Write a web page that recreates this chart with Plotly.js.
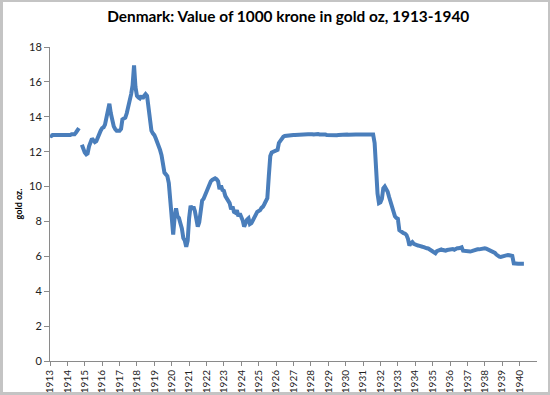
<!DOCTYPE html>
<html>
<head>
<meta charset="utf-8">
<script src="https://cdn.plot.ly/plotly-3.0.1.min.js"></script>
<style>
html,body{margin:0;padding:0;background:#fff;}
#wrap{position:relative;width:550px;height:395px;}
#chart{position:absolute;left:0;top:0;width:550px;height:395px;}
#frame{position:absolute;left:0;top:0;width:550px;height:395px;box-sizing:border-box;border:2px solid #c4c4c4;border-left-width:3px;border-bottom-width:3px;pointer-events:none;}
</style>
</head>
<body>
<div id="wrap"><div id="chart"></div><div id="frame"></div></div>
<script>
// Monthly values, Jan 1913 onward (null = no quotation)
const v1913 = [12.95,12.9,12.95,12.95,12.9,12.9,12.9,12.9,12.9,12.95,12.95,12.95];
const v1914 = [12.95,12.95,12.95,13.0,13.0,13.0,13.1,13.2,13.35,null,12.4,12.1];
const v1915 = [11.95,11.85,11.9,12.3,12.55,12.75,12.65,12.55,12.6,12.85,13.05,13.2];
const v1916 = [13.35,13.4,13.55,13.9,14.4,14.75,14.2,13.7,13.45,13.3,13.2,13.2];
const v1917 = [13.2,13.3,13.85,13.9,13.95,14.2,14.5,14.8,15.3,15.8,16.95,15.7];
const v1918 = [15.2,15.1,15.05,15.2,15.05,15.2,15.3,15.2,14.6,13.8,13.2,13.05];
const v1919 = [12.95,12.75,12.55,12.4,12.1,11.8,11.4,10.8,10.7,10.6,10.2,9.4];
const v1920 = [8.5,7.25,8.2,8.75,8.3,8.2,7.9,7.6,7.05,6.9,6.55,6.9];
const v1921 = [8.2,8.9,8.7,8.85,8.6,8.2,7.7,7.95,8.8,9.2,9.3,9.5];
const v1922 = [9.7,10.0,10.2,10.3,10.38,10.45,10.47,10.42,10.3,9.85,10.05,9.8];
const v1923 = [9.75,9.45,9.35,9.25,9.05,8.7,8.85,8.55,8.5,8.65,8.3,8.45];
const v1924 = [8.3,8.05,7.7,7.95,8.1,8.18,7.85,7.9,8.1,8.3,8.47,8.55];
const v1925 = [8.6,8.65,8.78,8.85,9.0,9.13,9.33,10.6,11.75,11.95,12.0,12.05];
const v1926 = [12.08,12.1,12.5,12.65,12.78,12.85,12.9,12.9,12.92,12.93,12.94,12.95];
const v1927 = [12.95,12.96,12.97,12.96,12.97,12.98,12.98,12.99,13.0,12.99,13.0,13.0];
const v1928 = [13.02,13.0,12.98,13.0,13.02,13.01,12.99,13.0,12.98,12.97,12.98,12.96];
const v1929 = [12.95,12.94,12.95,12.96,12.94,12.93,12.94,12.95,12.96,12.97,12.98,13.0];
const v1930 = [13.02,12.98,12.97,12.98,13.0,13.0,12.99,12.98,12.98,12.97,12.98,12.98];
const v1931 = [12.98,12.98,12.98,12.98,12.98,12.98,12.98,12.98,12.5,10.9,9.6,9.05];
const v1932 = [9.1,9.3,9.9,10.0,9.85,9.7,9.4,9.1,8.7,8.5,8.3,8.2];
const v1933 = [8.15,7.5,7.42,7.4,7.33,7.3,7.22,7.0,6.62,6.75,6.82,6.72];
const v1934 = [6.68,6.6,6.62,6.6,6.55,6.55,6.53,6.47,6.46,6.45,6.38,6.36];
const v1935 = [6.3,6.22,6.18,6.3,6.33,6.36,6.4,6.36,6.32,6.33,6.36,6.38];
const v1936 = [6.4,6.45,6.42,6.38,6.45,6.46,6.46,6.48,6.52,6.32,6.3,6.28];
const v1937 = [6.27,6.27,6.28,6.3,6.34,6.36,6.38,6.4,6.4,6.42,6.44,6.46];
const v1938 = [6.46,6.44,6.4,6.38,6.36,6.28,6.24,6.2,6.1,6.02,5.98,5.97];
const v1939 = [6.0,6.03,6.04,6.06,6.08,6.06,6.04,6.02,5.6,5.58,5.58,5.58];
const v1940 = [5.58,5.58,5.58,5.58];

const values = [].concat(v1913,v1914,v1915,v1916,v1917,v1918,v1919,v1920,v1921,v1922,
  v1923,v1924,v1925,v1926,v1927,v1928,v1929,v1930,v1931,v1932,v1933,v1934,v1935,
  v1936,v1937,v1938,v1939,v1940);

// Month categories
const months = values.map((_, i) => {
  const y = 1913 + Math.floor(i / 12), m = (i % 12) + 1;
  return y + '-' + (m < 10 ? '0' + m : m) + '-01';
});

// Tick labels (years 1913-1940)
const tickYears = ['1913','1914','1915','1916','1917','1918','1919','1920','1921','1922',
  '1923','1924','1925','1926','1927','1928','1929','1930','1931','1932','1933','1934',
  '1935','1936','1937','1938','1939','1940'];
const tickDates = tickYears.map(y => y + '-01-01');

const titleText = 'Denmark: Value of 1000 krone in gold oz, 1913-1940';
const yTitle = 'gold oz.';

const trace = {
  x: months, y: values, type: 'scatter', mode: 'lines',
  connectgaps: false,
  line: {color: '#4a7ebb', width: 4, shape: 'linear'},
  hoverinfo: 'skip'
};

const layout = {
  width: 550, height: 395,
  margin: {l: 50, r: 13, t: 47, b: 34, pad: 0},
  paper_bgcolor: '#fff', plot_bgcolor: '#fff',
  showlegend: false,
  title: {text: '<b>' + titleText + '</b>', x: 0.524, xref: 'container', xanchor: 'center',
          y: 0.957, yref: 'container', yanchor: 'middle',
          font: {family: 'Lato, "Open Sans", sans-serif', size: 15.4, color: '#000'}},
  xaxis: {
    type: 'date', range: ['1913-01-01', '1941-01-01'],
    tickmode: 'array', tickvals: tickDates, ticktext: tickYears, tickangle: -90,
    showgrid: false, zeroline: false, showline: true, linecolor: '#8a8a8a', linewidth: 1,
    ticks: 'outside', ticklen: 4, tickcolor: '#8a8a8a',
    tickfont: {family: 'Lato, "Open Sans", sans-serif', size: 10, color: '#222'}
  },
  yaxis: {
    range: [0, 18], dtick: 2, tick0: 0,
    showgrid: false, zeroline: false, showline: true, linecolor: '#8a8a8a', linewidth: 1,
    ticks: 'outside', ticklen: 5, tickcolor: '#8a8a8a',
    tickfont: {family: 'Lato, "Open Sans", sans-serif', size: 11, color: '#222'},
    title: {text: '<b>' + yTitle + '</b>', standoff: 4,
            font: {family: 'Lato, "Open Sans", sans-serif', size: 9, color: '#000'}}
  }
};

Plotly.newPlot('chart', [trace], layout, {staticPlot: true, displayModeBar: false});
</script>
</body>
</html>
